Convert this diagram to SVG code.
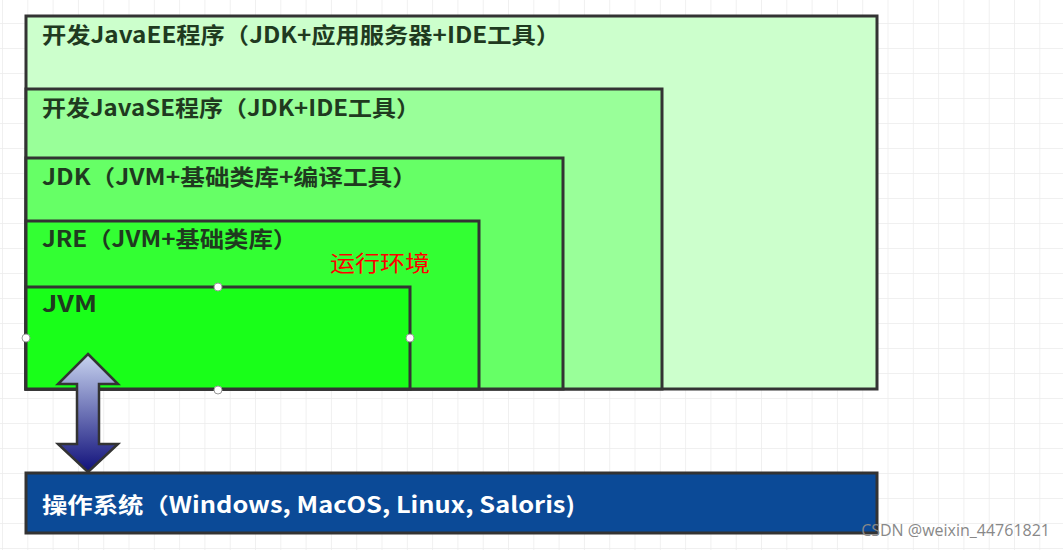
<svg xmlns="http://www.w3.org/2000/svg" width="1063" height="550" viewBox="0 0 1063 550">
<defs>
<pattern id="grid" width="25.3" height="25" patternUnits="userSpaceOnUse" x="3" y="-1">
<path d="M25.3 0V25H0" fill="none" stroke="#ececec" stroke-width="1.5"/>
</pattern>
<linearGradient id="ag" x1="0" y1="0" x2="0" y2="1">
<stop offset="0" stop-color="#c8d4f0"/><stop offset="1" stop-color="#10107a"/>
</linearGradient>
<style>
.box{stroke:#333;stroke-width:3}
.lbl{font-family:"Noto Sans CJK SC","Open Sans",sans-serif;font-weight:bold;font-size:22px;fill:#1f3a1f}
.h{fill:#fff;stroke:#999;stroke-width:1}
</style>
</defs>
<rect width="1063" height="550" fill="#fff"/>
<rect width="1063" height="550" fill="url(#grid)"/>
<g id="javaee"><rect class="box" x="26" y="16" width="851" height="373" fill="#ccffcc"/><text class="lbl" x="42" y="43" textLength="518" lengthAdjust="spacingAndGlyphs">开发JavaEE程序（JDK+应用服务器+IDE工具）</text></g>
<g id="javase"><rect class="box" x="26" y="89" width="636" height="300" fill="#99ff99"/><text class="lbl" x="42" y="116" textLength="378" lengthAdjust="spacingAndGlyphs">开发JavaSE程序（JDK+IDE工具）</text></g>
<g id="jdk"><rect class="box" x="26" y="158" width="537" height="231" fill="#66ff66"/><text class="lbl" x="42" y="185" textLength="375" lengthAdjust="spacingAndGlyphs">JDK（JVM+基础类库+编译工具）</text></g>
<g id="jre"><rect class="box" x="26" y="221" width="453" height="168" fill="#33ff33"/><text class="lbl" x="42" y="247" textLength="255" lengthAdjust="spacingAndGlyphs">JRE（JVM+基础类库）</text><text x="330" y="271" font-family="'Noto Sans CJK SC',sans-serif" font-size="22" fill="#ff0000" textLength="100" lengthAdjust="spacingAndGlyphs">运行环境</text></g>
<g id="jvm"><rect class="box" x="26" y="287" width="384" height="102" fill="#19ff19"/><text class="lbl" x="42" y="312" textLength="55" lengthAdjust="spacingAndGlyphs">JVM</text>
<circle class="h" cx="218" cy="287" r="4"/><circle class="h" cx="26" cy="338" r="4"/><circle class="h" cx="410" cy="338" r="4"/><circle class="h" cx="218" cy="390" r="4"/></g>
<g id="os"><rect class="box" x="26" y="473" width="851" height="60" fill="#0b4a97"/><text class="lbl" x="42" y="513" style="fill:#fff" textLength="533" lengthAdjust="spacingAndGlyphs">操作系统（Windows, MacOS, Linux, Saloris)</text></g>
<g id="connectors"><path d="M88 354L118 384H99V444H118L88 472L58 444H77V384H58Z" fill="url(#ag)" stroke="#333" stroke-width="2.5" stroke-linejoin="miter"/></g>
<text x="1050" y="536" text-anchor="end" font-family="'Open Sans',sans-serif" font-size="16" fill="#888">CSDN @weixin_44761821</text>
</svg>
